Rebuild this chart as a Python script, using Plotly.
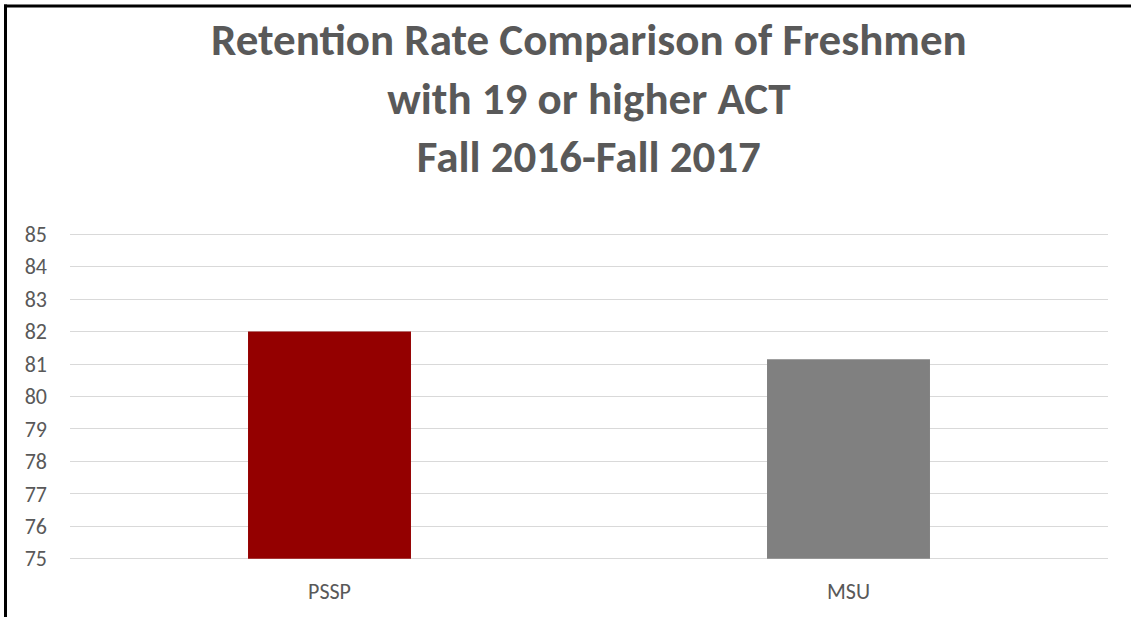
import plotly.graph_objects as go

categories = ["PSSP", "MSU"]
retention = [82.0, 81.15]
bar_colors = ["#940000", "#808080"]
y_ticks = [75, 76, 77, 78, 79, 80, 81, 82, 83, 84, 85]
title_lines = ["Retention Rate Comparison of Freshmen",
               "with 19 or higher ACT",
               "Fall 2016-Fall 2017"]

W, H = 1131, 617
ML, MR, MT, MB = 70, 23, 231, 55
PW, PH = W - ML - MR, H - MT - MB
BASE = 75

FONT = "Carlito, Lato, sans-serif"

fig = go.Figure()
fig.add_trace(go.Bar(
    x=categories,
    y=[v - BASE for v in retention],
    base=BASE,
    marker=dict(color=bar_colors, line=dict(width=0)),
))

fig.update_layout(
    width=W, height=H,
    margin=dict(l=ML, r=MR, t=MT, b=MB),
    paper_bgcolor="white",
    plot_bgcolor="white",
    showlegend=False,
    bargap=0.686,
    xaxis=dict(
        showgrid=False, zeroline=False, showline=False,
        ticks="", ticklabelstandoff=14,
        tickfont=dict(family=FONT, size=22, color="#595959"),
    ),
    yaxis=dict(
        # padded a little so the 75 and 85 grid lines are still drawn
        range=[74.9, 85.1],
        tickvals=y_ticks,
        showgrid=True, gridcolor="#d9d9d9", gridwidth=1.3,
        zeroline=False, showline=False,
        ticks="", ticklabelstandoff=22,
        tickfont=dict(family=FONT, size=22, color="#595959"),
    ),
    annotations=[dict(
        text="<b>" + "<br>".join(title_lines) + "</b>",
        xref="paper", yref="paper",
        x=0.5, xanchor="center",
        y=(H - MB - 10) / PH, yanchor="top",
        showarrow=False,
        font=dict(family=FONT, size=45, color="#595959"),
    )],
    shapes=[
        dict(type="line", xref="paper", yref="paper",
             x0=(4 - ML) / PW, x1=(W - ML) / PW,
             y0=(H - MB - 6) / PH, y1=(H - MB - 6) / PH,
             line=dict(color="black", width=3)),
        dict(type="line", xref="paper", yref="paper",
             x0=(5.5 - ML) / PW, x1=(5.5 - ML) / PW,
             y0=(H - MB - 4.5) / PH, y1=(-MB) / PH,
             line=dict(color="black", width=3)),
    ],
)

fig.write_html("out.html", config={"displayModeBar": False})

# drop the browser's default page margin so the chart sits at the top-left corner
with open("out.html", encoding="utf-8") as f:
    page = f.read()
page = page.replace("<body>", '<body style="margin:0">', 1)
with open("out.html", "w", encoding="utf-8") as f:
    f.write(page)
